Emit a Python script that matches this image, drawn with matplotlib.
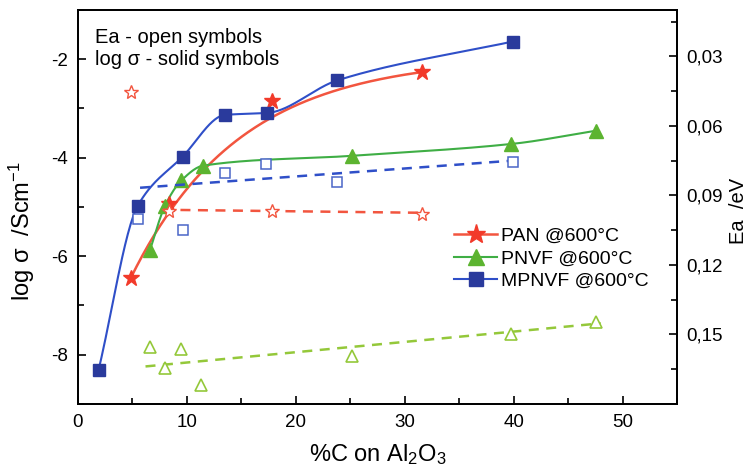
import numpy as np
import matplotlib
matplotlib.use("Agg")
import matplotlib.pyplot as plt
from matplotlib.ticker import MultipleLocator, FixedLocator, FuncFormatter

plt.rcParams["font.family"] = ["Liberation Sans", "DejaVu Sans"]
plt.rcParams["mathtext.fontset"] = "custom"
plt.rcParams["mathtext.rm"] = "Liberation Sans"
plt.rcParams["mathtext.it"] = "Liberation Sans:italic"
plt.rcParams["axes.unicode_minus"] = False

# log sigma (solid symbols)
pan_c = [4.85, 8.4, 17.8, 31.6]
pan_logs = [-6.44, -4.93, -2.85, -2.26]
pnvf_c = [6.6, 8.0, 9.5, 11.5, 25.2, 39.8, 47.6]
pnvf_logs = [-5.88, -4.97, -4.46, -4.16, -3.96, -3.72, -3.45]
mpnvf_c = [1.9, 5.5, 9.6, 13.5, 17.4, 23.8, 39.9]
mpnvf_logs = [-8.30, -4.97, -3.98, -3.13, -3.09, -2.43, -1.64]

# Ea (open symbols)
pan_ea_c = [4.85, 8.4, 17.8, 31.6]
pan_ea = [0.0452, 0.0967, 0.0967, 0.0980]
pnvf_ea_c = [6.6, 8.0, 9.5, 11.3, 25.2, 39.8, 47.6]
pnvf_ea = [0.1555, 0.1646, 0.1564, 0.1716, 0.1594, 0.150, 0.1447]
mpnvf_ea_c = [5.5, 9.6, 13.5, 17.3, 23.8, 39.9]
mpnvf_ea = [0.1001, 0.1049, 0.0802, 0.0763, 0.0841, 0.0755]

# Ea trend lines
pan_trend_c = [7.8, 31.6]
pan_trend_ea = [0.0962, 0.0975]
pnvf_trend_c = [6.2, 48.0]
pnvf_trend_ea = [0.1638, 0.1452]
mpnvf_trend_c = [5.7, 39.9]
mpnvf_trend_ea = [0.0867, 0.0750]

# PAN curve: exponential through the end points, decay length
pan_fit_idx = [0, 3]
pan_fit_decay = 10.0

RED = "#f23a2a"
RED_LINE = "#f2553f"
GREEN = "#5cb430"
GREEN_LINE = "#3fae45"
GREEN_DASH = "#94c83a"
BLUE = "#2a3a9c"
BLUE_LINE = "#2f4fc8"
BLUE_OPEN = "#4a66c8"


def pchip(x, y, xs):
    # monotone cubic through the points
    x = np.asarray(x, float)
    y = np.asarray(y, float)
    h = np.diff(x)
    d = np.diff(y) / h
    m = np.zeros_like(y)
    for k in range(1, len(x) - 1):
        if d[k - 1] * d[k] > 0:
            w1 = 2 * h[k] + h[k - 1]
            w2 = h[k] + 2 * h[k - 1]
            m[k] = (w1 + w2) / (w1 / d[k - 1] + w2 / d[k])
    m[0] = d[0]
    m[-1] = d[-1]
    idx = np.clip(np.searchsorted(x, xs) - 1, 0, len(x) - 2)
    t = (xs - x[idx]) / h[idx]
    h00 = 2 * t**3 - 3 * t**2 + 1
    h10 = t**3 - 2 * t**2 + t
    h01 = -2 * t**3 + 3 * t**2
    h11 = t**3 - t**2
    return h00 * y[idx] + h10 * h[idx] * m[idx] + h01 * y[idx + 1] + h11 * h[idx] * m[idx + 1]


def exp_fit(x, y, xs, c):
    # y = a + b*exp(-x/c)
    x = np.asarray(x, float)
    y = np.asarray(y, float)
    A = np.column_stack([np.ones_like(x), np.exp(-x / c)])
    coef = np.linalg.lstsq(A, y, rcond=None)[0]
    return coef[0] + coef[1] * np.exp(-xs / c)


fig = plt.figure(figsize=(7.52, 4.76), dpi=100)
ax = fig.add_axes([0.1037, 0.1513, 0.7966, 0.8277])
ax2 = ax.twinx()

# open symbols + dashed trends on Ea axis
ax2.plot(pan_trend_c, pan_trend_ea, "--", color=RED_LINE, lw=1.8, dashes=(4, 3))
ax2.plot(mpnvf_trend_c, mpnvf_trend_ea, "--", color=BLUE_LINE, lw=1.8, dashes=(4, 3))
ax2.plot(pnvf_trend_c, pnvf_trend_ea, "--", color=GREEN_DASH, lw=1.8, dashes=(4, 3))
ax2.plot(pan_ea_c, pan_ea, "*", ms=10, mfc="white", mec=RED_LINE, mew=1.0, ls="none")
ax2.plot(mpnvf_ea_c, mpnvf_ea, "s", ms=7, mfc="white", mec=BLUE_OPEN, mew=1.1, ls="none")
ax2.plot(pnvf_ea_c, pnvf_ea, "^", ms=8, mfc="white", mec=GREEN_DASH, mew=1.2, ls="none")

# solid curves on log sigma axis
px = np.array(pan_c)[pan_fit_idx]
py = np.array(pan_logs)[pan_fit_idx]
xs = np.linspace(pan_c[0], pan_c[-1], 200)
ax.plot(xs, exp_fit(px, py, xs, pan_fit_decay), color=RED_LINE, lw=1.8)
xs = np.linspace(pnvf_c[0], pnvf_c[-1], 300)
ax.plot(xs, pchip(pnvf_c, pnvf_logs, xs), color=GREEN_LINE, lw=1.5)
xs = np.linspace(mpnvf_c[0], mpnvf_c[-1], 300)
ax.plot(xs, pchip(mpnvf_c, mpnvf_logs, xs), color=BLUE_LINE, lw=1.5)

ax.plot(pan_c, pan_logs, "*", ms=12, color=RED, ls="none")
ax.plot(pnvf_c, pnvf_logs, "^", ms=10, color=GREEN, ls="none")
ax.plot(mpnvf_c, mpnvf_logs, "s", ms=9, color=BLUE, ls="none")

# legend handles
ax.plot([], [], "-*", color=RED_LINE, mfc=RED, mec=RED, ms=14, lw=1.8, label="PAN @600°C")
ax.plot([], [], "-^", color=GREEN_LINE, mfc=GREEN, mec=GREEN, ms=11, lw=1.5, label="PNVF @600°C")
ax.plot([], [], "-s", color=BLUE_LINE, mfc=BLUE, mec=BLUE, ms=10, lw=1.5, label="MPNVF @600°C")
ax.legend(loc="upper left", bbox_to_anchor=(0.615, 0.468), frameon=False, fontsize=14,
          handlelength=2.2, handletextpad=0.2, labelspacing=0.25, borderaxespad=0)

ax.set_xlim(0, 55)
ax.set_ylim(-9, -1)
ax2.set_ylim(0.18, 0.01)

ax.xaxis.set_major_locator(MultipleLocator(10))
ax.xaxis.set_minor_locator(MultipleLocator(5))
ax.yaxis.set_major_locator(MultipleLocator(2))
ax.yaxis.set_minor_locator(MultipleLocator(1))
ax2.yaxis.set_major_locator(FixedLocator([0.03, 0.06, 0.09, 0.12, 0.15]))
ax2.yaxis.set_minor_locator(FixedLocator([0.015, 0.045, 0.075, 0.105, 0.135, 0.165]))
ax2.yaxis.set_major_formatter(FuncFormatter(lambda v, p: f"{v:.2f}".replace(".", ",")))

for a in (ax, ax2):
    a.tick_params(which="both", direction="in", labelsize=13.5, width=1.2, pad=7)
    a.tick_params(which="major", length=6)
    a.tick_params(which="minor", length=4)
    for s in a.spines.values():
        s.set_linewidth(1.3)
ax.tick_params(axis="both", which="both", top=False, right=False)

ax.set_xlabel("%C on Al$_2$O$_3$", fontsize=17, labelpad=8)
ax.set_ylabel("log σ  /Scm$^{-1}$", fontsize=17)
ax.yaxis.set_label_coords(-0.068, 0.44)
ax2.set_ylabel("Ea  /eV", fontsize=14.5)
ax2.yaxis.set_label_coords(1.086, 0.49)

ax.text(0.028, 0.955, "Ea - open symbols\nlog σ - solid symbols", transform=ax.transAxes,
        fontsize=14.5, va="top", ha="left", linespacing=1.2)

fig.savefig("out.png", dpi=100)
